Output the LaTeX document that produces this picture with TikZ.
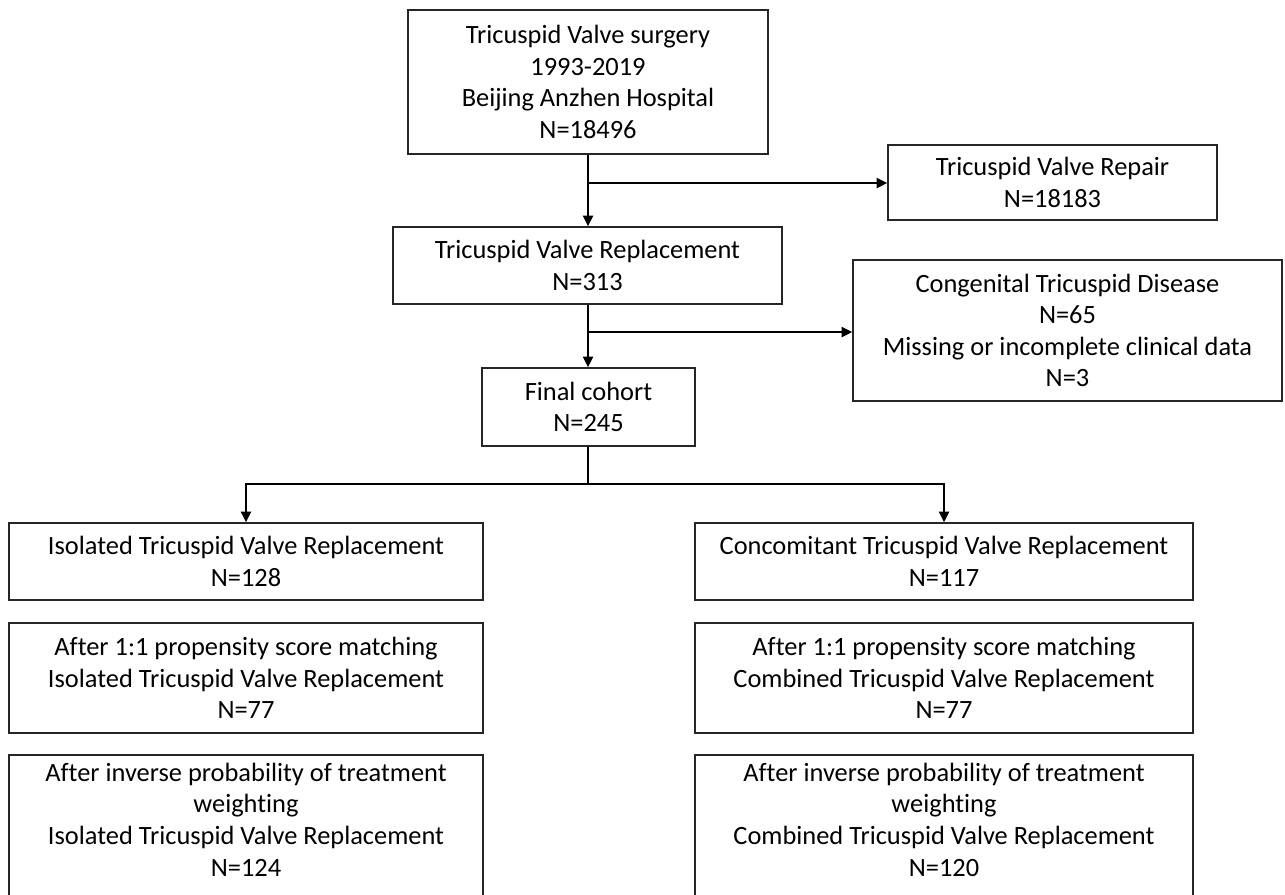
\documentclass[tikz,border=0pt]{standalone}
\usepackage{fontspec}
\setmainfont{Carlito}[Ligatures={NoCommon}]
\usetikzlibrary{arrows.meta}
\newcommand\pxu{0.75pt}
\begin{document}
\begin{tikzpicture}[x=0.75pt,y=-0.75pt,
  box/.style={draw=black!85, line width=1pt, fill=white, align=center, inner sep=0pt,
    font=\fontsize{19.8pt}{23.7pt}\selectfont, text=black},
  conn/.style={draw=black, line width=1.5pt},
  arr/.style={conn, -{Triangle[length=8pt,width=7.5pt]}}]
\path[use as bounding box, clip] (0,0) rectangle (1285,894);
\fill[white] (0,0) rectangle (1285,894);
% boxes
\node[box, minimum width=360*\pxu, minimum height=144*\pxu] (b1) at (588,82)
  {Tricuspid Valve surgery\\1993-2019\\Beijing Anzhen Hospital\\N=18496};
\node[box, minimum width=389*\pxu, minimum height=77*\pxu] (b2) at (587.5,265.5)
  {Tricuspid Valve Replacement\\N=313};
\node[box, minimum width=329*\pxu, minimum height=75*\pxu] (rep) at (1052.5,182.5)
  {Tricuspid Valve Repair\\N=18183};
\node[box, minimum width=429*\pxu, minimum height=141*\pxu] (cong) at (1067.5,330.5)
  {Congenital Tricuspid Disease\\N=65\\Missing or incomplete clinical data\\N=3};
\node[box, minimum width=213*\pxu, minimum height=78*\pxu] (fin) at (588.5,407)
  {Final cohort\\N=245};
\node[box, minimum width=474*\pxu, minimum height=77*\pxu] (l1) at (246,561.5)
  {Isolated Tricuspid Valve Replacement\\N=128};
\node[box, minimum width=498*\pxu, minimum height=77*\pxu] (r1) at (944,561.5)
  {Concomitant Tricuspid Valve Replacement\\N=117};
\node[box, minimum width=474*\pxu, minimum height=110*\pxu] (l2) at (246,678)
  {After 1:1 propensity score matching\\Isolated Tricuspid Valve Replacement\\N=77};
\node[box, minimum width=498*\pxu, minimum height=110*\pxu] (r2) at (944,678)
  {After 1:1 propensity score matching\\Combined Tricuspid Valve Replacement\\N=77};
\node[box, minimum width=474*\pxu, minimum height=170*\pxu] (l3) at (246,840)
  {After inverse probability of treatment\\weighting\\Isolated Tricuspid Valve Replacement\\N=124\\\strut};
\node[box, minimum width=498*\pxu, minimum height=170*\pxu] (r3) at (944,840)
  {After inverse probability of treatment\\weighting\\Combined Tricuspid Valve Replacement\\N=120\\\strut};
% connectors
\coordinate (j1) at (588,183);
\coordinate (j2) at (588,332);
\coordinate (j3) at (588,484);
\draw[arr] (b1.south) -- (b1.south |- b2.north);
\draw[arr] (j1) -- (j1 -| rep.west);
\draw[arr] (b1.south |- b2.south) -- (b1.south |- fin.north);
\draw[arr] (j2) -- (j2 -| cong.west);
\draw[conn] (b1.south |- fin.south) -- (j3);
\draw[arr] (j3) -| (l1.north);
\draw[arr] (j3) -| (r1.north);
\end{tikzpicture}
\end{document}
